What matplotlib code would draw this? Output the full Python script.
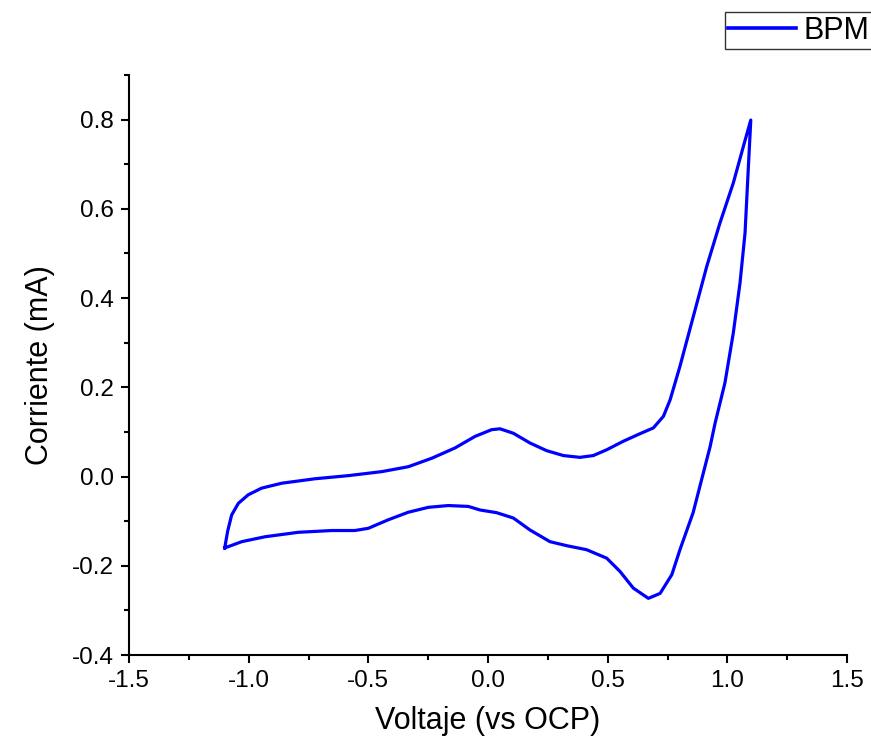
import matplotlib
matplotlib.use("Agg")
import matplotlib.pyplot as plt
from matplotlib.ticker import MultipleLocator

plt.rcParams['font.family'] = ['Liberation Sans', 'DejaVu Sans']

# Forward scan (upper branch)
v_fwd = [-1.100, -1.088, -1.071, -1.043, -1.002, -0.946, -0.862, -0.723, -0.584,
         -0.444, -0.333, -0.235, -0.138, -0.054, 0.015, 0.050, 0.106, 0.176, 0.245,
         0.315, 0.384, 0.440, 0.496, 0.565, 0.635, 0.691, 0.733, 0.761, 0.802,
         0.858, 0.914, 0.969, 1.025, 1.067, 1.098]
i_fwd = [-0.160, -0.123, -0.086, -0.060, -0.041, -0.026, -0.015, -0.005, 0.002,
         0.011, 0.022, 0.041, 0.064, 0.090, 0.105, 0.107, 0.097, 0.075, 0.058,
         0.047, 0.043, 0.047, 0.060, 0.079, 0.096, 0.109, 0.135, 0.172, 0.247,
         0.359, 0.471, 0.568, 0.658, 0.740, 0.799]

# Reverse scan (lower branch)
v_rev = [1.088, 1.074, 1.053, 1.025, 0.990, 0.949, 0.928, 0.857, 0.802, 0.768,
         0.719, 0.670, 0.607, 0.552, 0.496, 0.412, 0.329, 0.259, 0.176, 0.106,
         0.036, -0.033, -0.082, -0.166, -0.249, -0.333, -0.417, -0.500, -0.556,
         -0.653, -0.793, -0.932, -1.029, -1.100]
i_rev = [0.695, 0.546, 0.434, 0.322, 0.210, 0.120, 0.067, -0.081, -0.164, -0.220,
         -0.262, -0.273, -0.250, -0.213, -0.183, -0.164, -0.155, -0.146, -0.120, -0.093,
         -0.081, -0.075, -0.067, -0.065, -0.069, -0.080, -0.097, -0.116, -0.121,
         -0.121, -0.125, -0.135, -0.146, -0.160]

series_label = "BPM"
x_label = "Voltaje (vs OCP)"
y_label = "Corriente (mA)"
x_ticks = [-1.5, -1.0, -0.5, 0.0, 0.5, 1.0, 1.5]
y_ticks = [-0.4, -0.2, 0.0, 0.2, 0.4, 0.6, 0.8]

fig = plt.figure(figsize=(8.71, 7.44), dpi=100)
ax = fig.add_axes([129/871, 89/744, (847-129)/871, (655-75)/744])

ax.plot(v_fwd + v_rev, i_fwd + i_rev, color='#0000FF', lw=2.3, label=series_label,
        solid_joinstyle='round')

ax.set_xlim(-1.5, 1.5)
ax.set_ylim(-0.4, 0.9)
ax.set_xticks(x_ticks)
ax.set_xticklabels([f"{t:.1f}" for t in x_ticks])
ax.set_yticks(y_ticks)
ax.set_yticklabels([f"{t:.1f}" for t in y_ticks])
ax.xaxis.set_minor_locator(MultipleLocator(0.25))
ax.yaxis.set_minor_locator(MultipleLocator(0.1))

for s in ['top', 'right']:
    ax.spines[s].set_visible(False)
for s in ['left', 'bottom']:
    ax.spines[s].set_linewidth(1.5)

ax.tick_params(which='major', direction='out', length=6, width=1.5, labelsize=17.5, pad=5)
ax.tick_params(which='minor', direction='out', length=3.5, width=1.5)

ax.set_xlabel(x_label, fontsize=22, labelpad=10)
ax.set_ylabel(y_label, fontsize=22, labelpad=12)

leg = fig.legend(loc='upper right', bbox_to_anchor=(1.002, 0.984), fontsize=22,
                 frameon=True, fancybox=False, borderpad=0.12, handlelength=2.2,
                 handletextpad=0.25, borderaxespad=0.0)
leg.get_frame().set_edgecolor('black')
leg.get_frame().set_linewidth(1.0)
for h in leg.get_lines():
    h.set_linewidth(2.6)

fig.savefig('out.png', dpi=100)
